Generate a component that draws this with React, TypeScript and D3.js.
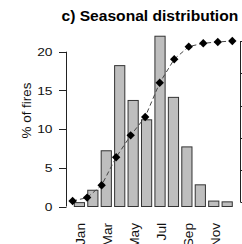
import React from "react";
import * as d3 from "d3";

const months = ["Jan", "Feb", "Mar", "Apr", "May", "Jun", "Jul", "Aug", "Sep", "Oct", "Nov", "Dec"];
const shownMonthLabels = ["Jan", "Mar", "May", "Jul", "Sep", "Nov"];
const firePercent = [0.5, 2.1, 7.2, 18.2, 13.7, 11.2, 22.0, 14.1, 7.7, 2.8, 0.7, 0.6];
const cumulativePercent = [0.8, 2.9, 10.6, 27.9, 41.5, 52.9, 74.1, 88.7, 96.5, 98.6, 99.4, 100];
const leftTicks = [0, 5, 10, 15, 20];
const rightTicks = [0, 20, 40, 60, 80, 100];
const title = "c) Seasonal distribution";
const yTitle = "% of fires";

const W = 242;
const H = 244;

export default function App() {
  const xBar = d3
    .scaleBand<string>()
    .domain(months)
    .range([72.7, 233.9])
    .paddingInner(0.1667)
    .paddingOuter(0.0833);
  const xDot = d3.scalePoint<string>().domain(months).range([72.6, 232.3]);
  const yL = d3.scaleLinear().domain([0, 20]).range([206.5, 51.7]);
  const yR = d3.scaleLinear().domain([0, 100]).range([202.3, 41]);

  const line = d3
    .line<number>()
    .x((_, i) => xDot(months[i]) as number)
    .y((d) => yR(d));

  const diamond = (cx: number, cy: number, r: number) =>
    `M${cx},${cy - r}L${cx + r},${cy}L${cx},${cy + r}L${cx - r},${cy}Z`;

  const font = "'Liberation Sans', Arial, Helvetica, sans-serif";
  const axisX = 66.5;
  const rightX = 240.5;

  return (
    <svg
      width={W}
      height={H}
      style={{ position: "absolute", left: 0, top: 0, background: "#fff" }}
      fontFamily={font}
    >
      <rect x={0} y={0} width={W} height={H} fill="#fff" />
      {/* title */}
      <text
        transform={`translate(61.5,20.7) scale(1.04,1)`}
        fontSize={15}
        fontWeight="bold"
        fill="#000"
      >
        {title}
      </text>

      {/* bars */}
      {firePercent.map((v, i) => (
        <rect
          key={months[i]}
          x={(xBar(months[i]) as number) + 0.5}
          y={yL(v)}
          width={xBar.bandwidth() - 1}
          height={yL(0) - yL(v)}
          fill="#bebebe"
          stroke="#333"
          strokeWidth={1}
        />
      ))}

      {/* cumulative line */}
      <path
        d={line(cumulativePercent) || ""}
        fill="none"
        stroke="#444"
        strokeWidth={1}
        strokeDasharray="4.5,3"
      />
      {cumulativePercent.map((v, i) => (
        <path key={"d" + i} d={diamond(xDot(months[i]) as number, yR(v), 4.2)} fill="#000" />
      ))}

      {/* left axis */}
      <line x1={axisX} x2={axisX} y1={yL(0)} y2={yL(20)} stroke="#222" strokeWidth={1} />
      {leftTicks.map((t) => (
        <g key={"lt" + t}>
          <line x1={axisX - 7.5} x2={axisX} y1={Math.round(yL(t)) + 0.5} y2={Math.round(yL(t)) + 0.5} stroke="#222" strokeWidth={1} />
          <text
            transform={`translate(52.5,${yL(t) + 4.2}) scale(1.2,1)`}
            textAnchor="end"
            fontSize={11.5}
            fill="#111"
          >
            {t}
          </text>
        </g>
      ))}
      <text
        transform={`translate(30.5,110.5) rotate(-90) scale(1.12,1)`}
        textAnchor="middle"
        fontSize={12}
        fill="#111"
      >
        {yTitle}
      </text>

      {/* right axis */}
      <line x1={rightX} x2={rightX} y1={yR(0)} y2={yR(100)} stroke="#222" strokeWidth={1} />
      {rightTicks.map((t) => (
        <line
          key={"rt" + t}
          x1={rightX}
          x2={rightX + 7}
          y1={Math.round(yR(t)) + 0.5}
          y2={Math.round(yR(t)) + 0.5}
          stroke="#222"
          strokeWidth={1}
        />
      ))}

      {/* month labels */}
      {shownMonthLabels.map((m) => (
        <text
          key={"m" + m}
          transform={`translate(${(xBar(m) as number) + xBar.bandwidth() / 2 + 5.8},222.8) rotate(-90) scale(1.15,1)`}
          textAnchor="end"
          fontSize={12}
          fill="#111"
        >
          {m}
        </text>
      ))}
    </svg>
  );
}
